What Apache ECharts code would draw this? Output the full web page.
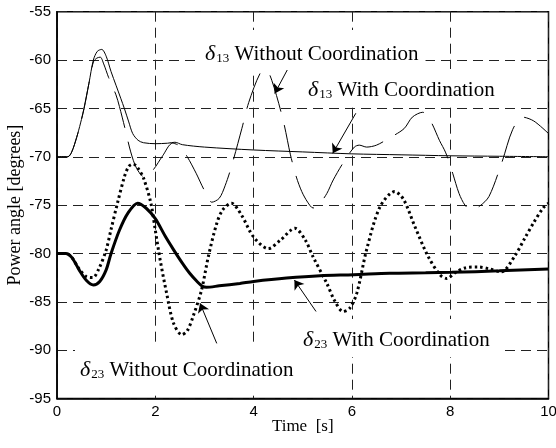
<!DOCTYPE html>
<html>
<head>
<meta charset="utf-8">
<script src="https://cdn.jsdelivr.net/npm/echarts@6/dist/echarts.min.js"></script>
<style>html,body{margin:0;padding:0;background:#fff;}#c{width:556px;height:448px;}</style>
</head>
<body>
<div id="c"></div>
<script>
// ---- data ----
var xTicks = [0, 2, 4, 6, 8, 10];
var yTicks = [-95, -90, -85, -80, -75, -70, -65, -60, -55];

// delta13 with coordination (thin solid)
var t13w = [0, 0.22, 0.3, 0.4, 0.48, 0.55, 0.65, 0.74, 0.82, 0.91, 1.0, 1.1, 1.2, 1.3, 1.37, 1.46, 1.54, 1.65, 1.76, 2.0, 2.25, 2.4, 2.55, 3.0, 4, 5, 6, 7, 8, 9, 10];
var v13w = [-70, -70, -69.5, -68.0, -66.5, -65, -62.4, -60, -59.1, -58.9, -59.6, -61.2, -62.6, -64.0, -65, -66.4, -67.6, -68.3, -68.55, -68.65, -68.6, -68.5, -68.75, -69.0, -69.3, -69.5, -69.7, -69.8, -69.9, -69.95, -70];

// delta13 without coordination (thin dashed)
var t13n = [0, 0.22, 0.3, 0.4, 0.48, 0.55, 0.65, 0.74, 0.81, 0.88, 0.95, 1.05, 1.2, 1.27, 1.38, 1.5, 1.62, 1.78, 1.95, 2.15, 2.35, 2.5, 2.65, 2.83, 3.0, 3.15, 3.3, 3.42, 3.55, 3.76, 3.9, 4.13, 4.25, 4.37, 4.6, 4.75, 4.87, 4.98, 5.1, 5.21, 5.35, 5.49, 5.62, 5.85, 6.05, 6.15, 6.3, 6.5, 6.75, 7.06, 7.23, 7.44, 7.6, 7.78, 7.91, 8.05, 8.18, 8.3, 8.42, 8.6, 8.79, 9.05, 9.27, 9.47, 9.7, 10];
var v13n = [-70, -70, -69.5, -68.0, -66.5, -65, -62.4, -60.2, -59.8, -59.7, -60.4, -61.8, -63.6, -64.8, -67.0, -69.5, -71.2, -72.1, -71.4, -69.9, -68.6, -68.9, -70.0, -71.7, -73.5, -74.7, -74.3, -73.0, -71.0, -67.1, -64.4, -61.4, -61.0, -62.1, -66.2, -69.8, -72.1, -73.6, -74.7, -75.3, -74.8, -73.8, -72.4, -70.4, -69.0, -68.8, -69.0, -68.8, -68.1, -67.1, -65.9, -65.4, -66.3, -68.3, -69.6, -71.7, -73.8, -75.0, -75.5, -75.1, -74.1, -70.6, -67.2, -65.9, -66.3, -67.6];

// delta23 with coordination (thick solid)
var t23w = [0, 0.18, 0.3, 0.45, 0.6, 0.74, 0.87, 1.0, 1.1, 1.27, 1.44, 1.64, 1.81, 2.0, 2.2, 2.37, 2.55, 2.7, 2.85, 2.96, 3.04, 3.3, 3.72, 4.0, 4.67, 5.35, 6.03, 6.77, 7.5, 8.03, 9.0, 10];
var v23w = [-80, -80, -80.4, -81.7, -82.8, -83.26, -82.9, -81.7, -80, -77.6, -75.85, -74.8, -75.3, -76.4, -78.2, -79.6, -81.0, -82.05, -82.9, -83.4, -83.5, -83.35, -83.1, -82.9, -82.55, -82.3, -82.2, -82.05, -82.0, -81.95, -81.8, -81.6];

// delta23 without coordination (thick dotted)
var t23n = [0, 0.18, 0.3, 0.45, 0.6, 0.73, 0.85, 1.0, 1.1, 1.23, 1.37, 1.46, 1.55, 1.65, 1.76, 1.91, 2.0, 2.1, 2.23, 2.37, 2.54, 2.65, 2.77, 2.94, 3.08, 3.25, 3.37, 3.55, 3.75, 4.0, 4.3, 4.55, 4.84, 5.05, 5.21, 5.49, 5.65, 5.82, 5.95, 6.1, 6.3, 6.57, 6.87, 7.05, 7.28, 7.55, 7.79, 7.93, 8.1, 8.3, 8.57, 8.8, 9.04, 9.31, 9.52, 9.7, 9.89, 10];
var v23n = [-80, -80, -80.4, -81.6, -82.4, -82.5, -81.6, -79.65, -77.5, -74.8, -72.1, -71.0, -70.75, -71.2, -72.2, -74.8, -77.6, -80.7, -84.1, -87.2, -88.4, -88.0, -86.5, -83.8, -80.3, -76.9, -75.5, -74.8, -76.0, -78.3, -79.5, -78.6, -77.4, -78.6, -80.35, -83.1, -84.9, -86.0, -85.7, -84.1, -79.6, -75.2, -73.6, -74.4, -77.2, -80.3, -82.2, -82.6, -82.0, -81.5, -81.4, -81.6, -81.9, -80.3, -78.4, -76.8, -75.3, -74.8];

// annotation arrows: [tStart, vStart, tEnd(tip), vEnd(tip)]
var arrows = [
  [4.74, -60.5, 4.43, -63.45],
  [6.08, -65.5, 5.61, -69.65],
  [3.25, -89.3, 2.91, -85.15],
  [5.27, -86.0, 4.83, -82.75]
];

function pairs(t, v) { return t.map(function (x, i) { return [x, v[i]]; }); }

var serif = 'Liberation Serif';
var chart = echarts.init(document.getElementById('c'), null, {renderer: 'canvas'});

function label(x, y, sub, txt, pad) {
  return {
    type: 'text', z: 100, x: x, y: y,
    style: {
      text: '{d|δ}{s|' + sub + '} ' + txt,
      fill: '#000',
      font: '21px "' + serif + '"',
      verticalAlign: 'middle',
      backgroundColor: '#fff',
      padding: pad,
      rich: {
        d: {fontFamily: serif, fontSize: 22, fontStyle: 'italic', fill: '#000'},
        s: {fontFamily: serif, fontSize: 13, verticalAlign: 'bottom', fill: '#000', padding: [0, 0, 0, 1]}
      }
    }
  };
}

var option = {
  animation: false,
  backgroundColor: '#fff',
  grid: {left: 57, right: 7.5, top: 11.7, bottom: 49.5, containLabel: false, outerBoundsMode: 'none',
    show: true, borderColor: '#000', borderWidth: 1.5, backgroundColor: 'transparent'},
  xAxis: {
    type: 'value', min: 0, max: 10, interval: 2,
    name: 'Time  [s]', nameLocation: 'middle', nameGap: 20, nameMoveOverlap: false,
    nameTextStyle: {fontFamily: serif, fontSize: 17, color: '#000'},
    axisLine: {show: true, lineStyle: {color: '#000', width: 1.5}},
    axisTick: {show: false},
    axisLabel: {fontFamily: 'Liberation Sans', fontSize: 15, color: '#000', margin: 6},
    splitLine: {show: true, lineStyle: {color: '#222', width: 1, type: [10, 6]}}
  },
  yAxis: {
    type: 'value', min: -95, max: -55, interval: 5,
    name: 'Power angle [degrees]', nameLocation: 'middle', nameGap: 33, nameRotate: 90, nameMoveOverlap: false,
    nameTextStyle: {fontFamily: serif, fontSize: 18, color: '#000'},
    axisLine: {show: true, lineStyle: {color: '#000', width: 1.5}},
    axisTick: {show: false},
    axisLabel: {fontFamily: 'Liberation Sans', fontSize: 15, color: '#000', margin: 6},
    splitLine: {show: true, lineStyle: {color: '#222', width: 1, type: [10, 6]}}
  },
  series: [
    {
      type: 'line', name: 'd13w', data: pairs(t13w, v13w), smooth: 0.3, symbol: 'none',
      lineStyle: {color: '#000', width: 1},
      markLine: {
        silent: true, symbol: ['none', 'arrow'], symbolSize: 9,
        label: {show: false},
        lineStyle: {color: '#000', width: 1, type: 'solid'},
        data: arrows.map(function (a) { return [{coord: [a[0], a[1]]}, {coord: [a[2], a[3]]}]; })
      }
    },
    {
      type: 'line', name: 'd13n', data: pairs(t13n, v13n), smooth: 0.3, symbol: 'none',
      lineStyle: {color: '#000', width: 1, type: [38, 14]}
    },
    {
      type: 'line', name: 'd23w', data: pairs(t23w, v23w), smooth: 0.3, symbol: 'none',
      lineStyle: {color: '#000', width: 3}
    },
    {
      type: 'line', name: 'd23n', data: pairs(t23n, v23n), smooth: 0.3, symbol: 'none',
      lineStyle: {color: '#000', width: 3, type: [2.5, 3], cap: 'butt'}
    }
  ],
  graphic: [
    label(200, 50, '13', 'Without Coordination', [13, 7, 5, 5]),
    label(302, 88, '13', 'With Coordination', [10, 8, 6, 6]),
    label(298, 338, '23', 'With Coordination', [10, 12, 6, 5]),
    label(75, 370, '23', 'Without Coordination', [12, 6, 12, 5])
  ]
};
chart.setOption(option);
</script>
</body>
</html>
